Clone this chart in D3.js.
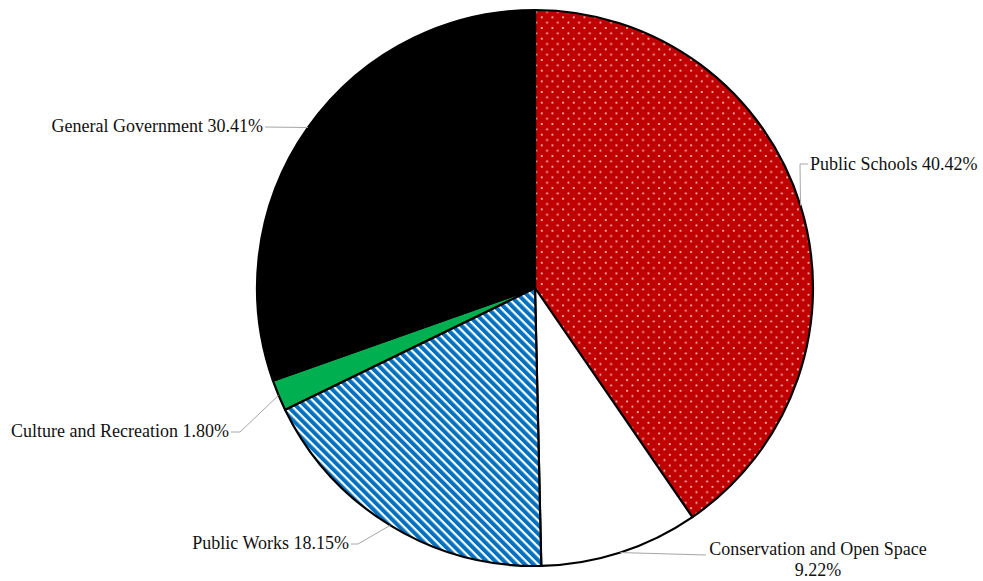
<!DOCTYPE html>
<html><head><meta charset="utf-8">
<script src="https://cdn.jsdelivr.net/npm/d3@7"></script>
<style>html,body{margin:0;padding:0;background:#fff;}svg{display:block;}</style>
</head><body>
<svg id="chart" width="983" height="581"></svg>
<script>
const categories = ["Public Schools", "Conservation and Open Space", "Public Works", "Culture and Recreation", "General Government"];
const values = [40.42, 9.22, 18.15, 1.80, 30.41];
const valueLabels = ["40.42%", "9.22%", "18.15%", "1.80%", "30.41%"];
const fills = ["url(#dots)", "#ffffff", "url(#stripes)", "#00B050", "#000000"];

const labelLayout = [
  {x: 810, y: 170, anchor: "start", lines: 1, pts: [[808, 164], [800, 164]]},
  {x: 818, y: 555, anchor: "middle", lines: 2, pts: [[706, 555]]},
  {x: 349, y: 549, anchor: "end", lines: 1, pts: [[351, 544], [358, 544]]},
  {x: 229, y: 437, anchor: "end", lines: 1, pts: [[231, 432], [240, 432]]},
  {x: 263, y: 132, anchor: "end", lines: 1, pts: [[265, 127]]}
];

const svg = d3.select("#chart");
const cx = 535, cy = 288, R = 278;
const defs = svg.append("defs");
const dp = defs.append("pattern").attr("id", "dots").attr("patternUnits", "userSpaceOnUse")
  .attr("width", 10.67).attr("height", 10.67);
dp.append("rect").attr("width", 10.67).attr("height", 10.67).attr("fill", "#C00000");
dp.append("rect").attr("x", 0.5).attr("y", 0.5).attr("width", 1.8).attr("height", 1.8).attr("fill", "#ffffff").attr("opacity", 0.75);
dp.append("rect").attr("x", 5.83).attr("y", 5.83).attr("width", 1.8).attr("height", 1.8).attr("fill", "#ffffff").attr("opacity", 0.75);

const sp = defs.append("pattern").attr("id", "stripes").attr("patternUnits", "userSpaceOnUse")
  .attr("width", 6.2).attr("height", 10).attr("patternTransform", "rotate(-45)");
sp.append("rect").attr("width", 6.2).attr("height", 10).attr("fill", "#ffffff");
sp.append("rect").attr("width", 4).attr("height", 10).attr("fill", "#0070C0");

const pie = d3.pie().sort(null).value(d => d);
const arcs = pie(values);
const arc = d3.arc().innerRadius(0).outerRadius(R);

const g = svg.append("g").attr("transform", `translate(${cx},${cy})`);
g.selectAll("path.slice").data(arcs).join("path").attr("class", "slice")
  .attr("d", arc).attr("fill", (d, i) => fills[i])
  .attr("stroke", "#000").attr("stroke-width", 2.2).attr("stroke-linejoin", "round");

arcs.forEach((d, i) => {
  const mid = (d.startAngle + d.endAngle) / 2;
  const px = cx + R * Math.sin(mid), py = cy - R * Math.cos(mid);
  const pts = labelLayout[i].pts.concat([[px, py]]);
  svg.append("path").attr("d", d3.line()(pts)).attr("fill", "none")
    .attr("stroke", "#A6A6A6").attr("stroke-width", 1);
});

arcs.forEach((d, i) => {
  const L = labelLayout[i];
  const t = svg.append("text").attr("x", L.x).attr("y", L.y).attr("text-anchor", L.anchor)
    .attr("font-family", "'Liberation Serif','Times New Roman',serif").attr("font-size", 18).attr("fill", "#111");
  if (L.lines === 2) {
    t.append("tspan").attr("x", L.x).text(categories[i]);
    t.append("tspan").attr("x", L.x).attr("dy", 21).text(valueLabels[i]);
  } else {
    t.text(categories[i] + " " + valueLabels[i]);
  }
});
</script>
</body></html>
